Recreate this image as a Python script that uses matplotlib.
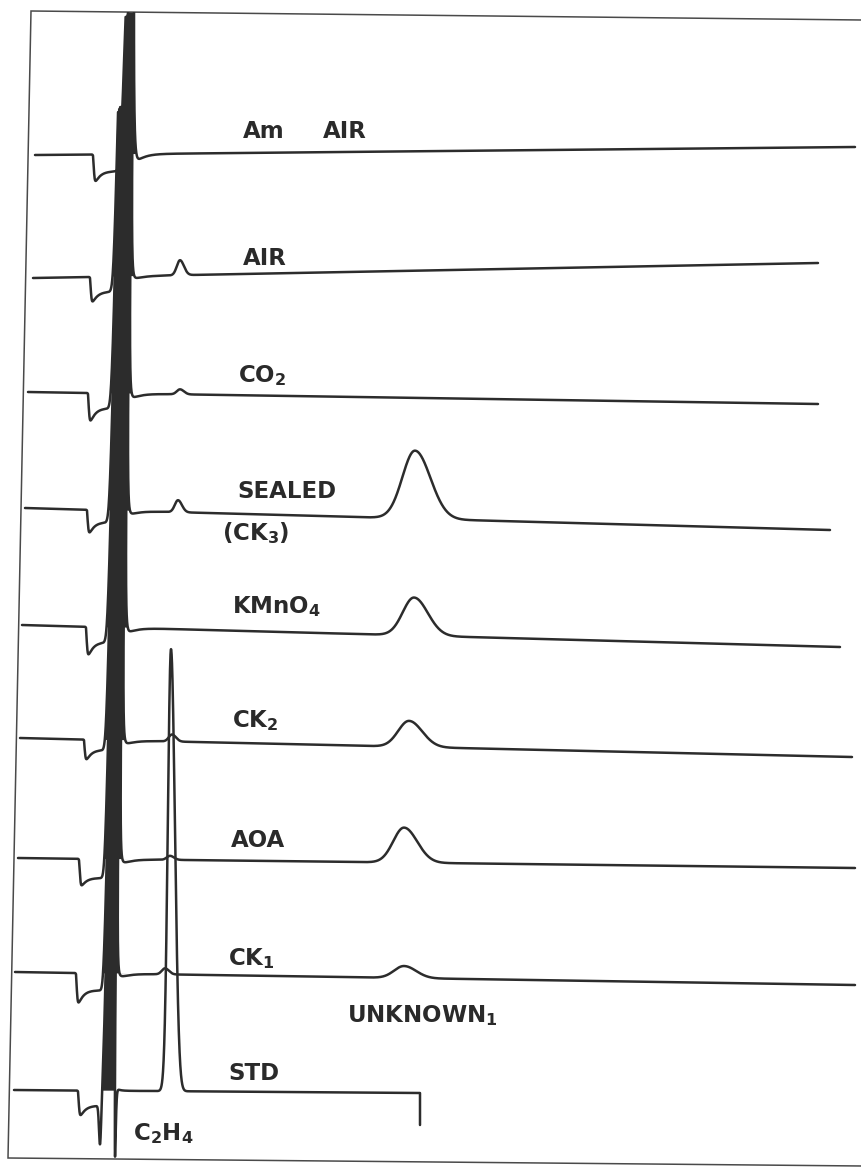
import numpy as np
import matplotlib
matplotlib.use("Agg")
import matplotlib.pyplot as plt
from matplotlib.patches import Polygon

# ---------------- data read from the chromatogram strip ----------------
# units: chart-paper units (1 unit ~ 1 px of the reference); vertical grows downward
trace_names = ["Am AIR", "AIR", "CO2", "SEALED (CK3)", "KMnO4", "CK2", "AOA", "CK1", "STD"]
base_left = [155, 278, 392, 508, 625, 738, 858, 972, 1090]   # baseline level at start
base_right = [147, 263, 404, 530, 647, 757, 868, 985, 1093]  # baseline level at end
x_start = [35, 33, 28, 25, 22, 20, 18, 15, 14]
x_end = [855, 818, 818, 830, 840, 852, 855, 855, 420]
end_drop = [0, 0, 0, 0, 0, 0, 0, 0, 32]

# negative solvent dip ahead of the air/CO2 peak
dip_x = [93, 90, 88, 87, 86, 84, 79, 76, 78]
dip_depth = [27, 25, 28, 23, 28, 20, 27, 30, 25]
plateau_depth = [17, 15, 15, 12, 15, 10, 19, 17, 15]

# large off-scale first peak (pen stops at pen_limit)
main_x = [127, 122, 120, 118, 116, 114, 112, 110, 108]
main_amp = [400, 3000, 3000, 3000, 3000, 3000, 2500, 1800, 1200]
main_sigma = [3.0, 3.0, 3.0, 3.0, 3.0, 2.8, 2.6, 2.4, 2.2]
pen_limit = [0, 97, 97, 97, 97, 97, 97, 97, 97]
undershoot = [6, 4, 6, 5, 6, 5, 5, 4, 0]

# ethylene (C2H4) peak
eth_x = [180, 180, 180, 178, 175, 172, 170, 165, 171]
eth_height = [0, 15, 5, 12, 0, 7, 4, 6, 442]

# unknown peak
unk_x = [415, 415, 415, 415, 414, 409, 404, 404, 404]
unk_height = [0, 0, 0, 68, 38, 26, 35, 12, 0]
unk_width = [14, 14, 14, 14, 12.5, 12, 12, 11, 12]

# STD off-scale pen excursions below baseline
neg_pre_x = [0, 0, 0, 0, 0, 0, 0, 0, 100]
neg_pre_depth = [0, 0, 0, 0, 0, 0, 0, 0, 40]
neg_post_x = [0, 0, 0, 0, 0, 0, 0, 0, 114]
neg_post_depth = [0, 0, 0, 0, 0, 0, 0, 0, 103]

band_skew = 0.017   # pen slant of the off-scale peak


# ---------------- peak shapes ----------------
def smooth_step(x, x0, w):
    return 0.5 * (1 + np.tanh((x - x0) / w))


def pulse(x, x0, rise, decay):
    t = np.clip(x - x0, 0, None)
    f = (1 - np.exp(-t / rise)) * np.exp(-t / decay)
    tt = np.linspace(0, 12 * decay, 4000)
    fmax = ((1 - np.exp(-tt / rise)) * np.exp(-tt / decay)).max()
    return f / fmax


def asym_peak(x, c, h, sl, sr, tail=0.0, tau=3.5):
    left = np.exp(-0.5 * ((x - c) / sl) ** 2)
    d = np.clip(x - c, 0, None)
    right = (1 - tail) * np.exp(-0.5 * (d / sr) ** 2) + tail * np.exp(-d / tau)
    return h * np.where(x < c, left, right)


def gauss(x, c, h, s):
    return h * np.exp(-0.5 * ((x - c) / s) ** 2)


# ---------------- figure ----------------
fig = plt.figure(figsize=(8.62, 11.67), dpi=100)
ax = fig.add_axes([0, 0, 1, 1])
ax.set_xlim(0, 862)
ax.set_ylim(1167, 0)
ax.axis("off")

frame_pts = [(31, 11), (862, 20), (862, 1166), (8, 1158)]
clip = Polygon(frame_pts, closed=True, transform=ax.transData, fill=False, lw=0)
ax.add_patch(clip)
fx, fy = zip(*[frame_pts[1], frame_pts[0], frame_pts[3], frame_pts[2]])
ax.plot(fx, fy, color="#4a4a4a", lw=1.1, solid_joinstyle="miter")

ink = "#2c2c2c"
for i in range(len(trace_names)):
    x = np.arange(x_start[i], x_end[i] + 0.01, 0.1)
    frac = (x - x_start[i]) / (x_end[i] - x_start[i])
    base = base_left[i] + (base_right[i] - base_left[i]) * frac

    s = np.zeros_like(x)
    s -= (dip_depth[i] - plateau_depth[i]) * pulse(x, dip_x[i], 1.4, 5.0)
    s -= plateau_depth[i] * smooth_step(x, dip_x[i] + 1.0, 0.8) * (1 - smooth_step(x, main_x[i] - 1, 1.0))
    sg = main_sigma[i]
    s_main = asym_peak(x, main_x[i], main_amp[i], sg, sg * 1.07, tail=0.02, tau=3.5)
    s_main = np.minimum(s_main, base - pen_limit[i])
    s += s_main
    if undershoot[i]:
        s -= undershoot[i] * pulse(x, main_x[i] + 6, 3.0, 8.0)
    if eth_height[i]:
        s += asym_peak(x, eth_x[i], eth_height[i], 3.2, 3.9)
    if unk_height[i]:
        s += asym_peak(x, unk_x[i], unk_height[i], unk_width[i] * 0.9, unk_width[i] * 1.1)
    if neg_pre_depth[i]:
        s -= gauss(x, neg_pre_x[i], neg_pre_depth[i], 1.0)
    if neg_post_depth[i]:
        s -= gauss(x, neg_post_x[i], neg_post_depth[i], 1.3)

    y = base - s
    xd = x + band_skew * s_main          # slanted off-scale peak

    # ink-filled off-scale peak
    m = (x > main_x[i] - 12) & (x < main_x[i] + 12)
    ym = np.minimum(y[m], base[m])
    poly = ax.fill(np.r_[xd[m], xd[m][::-1]], np.r_[ym, base[m][::-1]],
                   color=ink, lw=0)[0]
    poly.set_clip_path(clip)

    if end_drop[i]:
        xd = np.append(xd, xd[-1])
        y = np.append(y, y[-1] + end_drop[i])
    ln, = ax.plot(xd, y, color=ink, lw=1.8, solid_joinstyle="round", solid_capstyle="round")
    ln.set_clip_path(clip)

# ---------------- labels ----------------
plt.rcParams["mathtext.fontset"] = "dejavusans"
font = dict(family="DejaVu Sans", weight="bold", size=16.5, color="#2a2a2a",
            ha="left", va="baseline")
label_items = [
    ("Am", 243, 138), ("AIR", 323, 138),
    ("AIR", 243, 265),
    (r"CO$_\mathbf{2}$", 238, 382),
    ("SEALED", 237, 498),
    (r"(CK$_\mathbf{3}$)", 222, 540),
    (r"KMnO$_\mathbf{4}$", 232, 613),
    (r"CK$_\mathbf{2}$", 232, 727),
    ("AOA", 231, 847),
    (r"CK$_\mathbf{1}$", 228, 965),
    (r"UNKNOWN$_\mathbf{1}$", 347, 1022),
    ("STD", 228, 1080),
    (r"C$_\mathbf{2}$H$_\mathbf{4}$", 133, 1140),
]
for txt, lx, ly in label_items:
    ax.text(lx, ly, txt, **font)

fig.savefig("out.png", dpi=100, facecolor="white")
